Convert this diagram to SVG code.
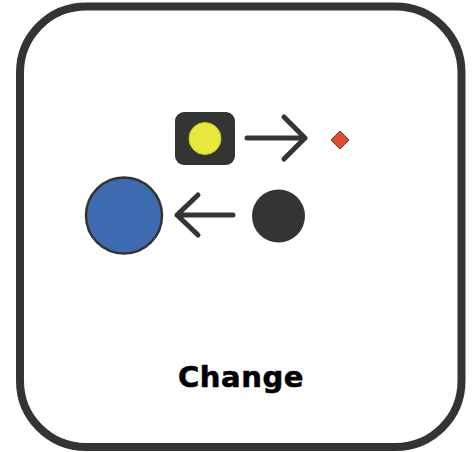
<svg xmlns="http://www.w3.org/2000/svg" width="474" height="452" viewBox="0 0 474 452">
<style>
.ln{stroke:#333532;stroke-width:5;stroke-linecap:round;stroke-linejoin:round;fill:none}
.lbl{font-family:"DejaVu Sans",Inter,sans-serif;font-weight:700;font-size:29px;letter-spacing:0.6px;fill:#000;stroke:#000;stroke-width:0.6px}
</style>
<rect width="474" height="452" fill="#fff"/>
<g id="frame"><rect x="20" y="6.5" width="441.5" height="440.5" rx="66" fill="#fff" stroke="#333532" stroke-width="8"/></g>
<g id="yellow-node">
<rect x="175" y="112" width="60" height="53" rx="9" fill="#333532"/>
<circle cx="205" cy="138.5" r="16" fill="#e9e83c" stroke="#c9c820" stroke-width="1"/>
</g>
<g id="red-diamond"><polygon points="340,131 349,140 340,149 331,140" fill="#e04a2f" stroke="#8a3020" stroke-width="1"/></g>
<g id="blue-circle"><circle cx="124" cy="215.5" r="38" fill="#3e6bb0" stroke="#333532" stroke-width="2.5"/></g>
<g id="dark-circle"><circle cx="278.5" cy="216" r="26.5" fill="#333532"/></g>
<g id="connectors">
<path class="ln" d="M247,138 H305 M284,117 L305,138 L284,159"/>
<path class="ln" d="M233,215 H177 M198,195 L177,215 L198,235"/>
</g>
<g id="label"><text class="lbl" x="241" y="387" text-anchor="middle">Change</text></g>
</svg>
